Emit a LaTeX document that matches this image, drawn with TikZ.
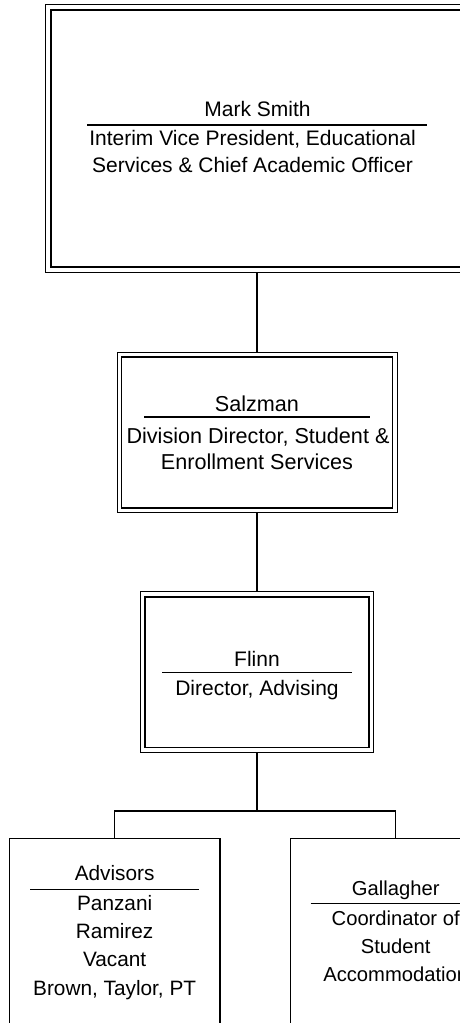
\documentclass[tikz,border=0pt]{standalone}
\usepackage{fontspec}
\setmainfont{Liberation Sans}
\begin{document}
\begin{tikzpicture}[x=1pt,y=-1pt,
  dbox/.style={draw,line width=1pt,inner sep=0pt},
  sbox/.style={draw,line width=1.2pt,inner sep=0pt},
  inner/.style={line width=1.6pt},
  conn/.style={line width=1.3pt},
  rulel/.style={line width=1.3pt},
  txt/.style={inner sep=0pt,anchor=base,font=\fontsize{21}{25}\selectfont},
  txtm/.style={inner sep=0pt,anchor=base,font=\fontsize{21.6}{25}\selectfont},
  txts/.style={inner sep=0pt,anchor=base,font=\fontsize{20.8}{25}\selectfont},
  txtr/.style={inner sep=0pt,anchor=base,font=\fontsize{20.2}{25}\selectfont}]
\useasboundingbox (0,0) rectangle (460,1023);
\clip (0,0) rectangle (460,1023);
% boxes
\node[dbox,minimum width=422.6pt,minimum height=267.3pt] (vp) at (257,138.35) {};
\draw[inner] ([shift={(5.5,5.5)}]vp.north west) rectangle ([shift={(-5.5,-5.5)}]vp.south east);
\node[dbox,minimum width=280pt,minimum height=160pt] (salz) at (257,432.7) {};
\draw[inner] ([shift={(5,5)}]salz.north west) rectangle ([shift={(-5,-5)}]salz.south east);
\node[dbox,minimum width=233.5pt,minimum height=160.6pt] (flinn) at (257,672) {};
\draw[inner] ([shift={(5,5.5)}]flinn.north west) rectangle ([shift={(-5,-5.5)}]flinn.south east);
\node[sbox,minimum width=210.7pt,minimum height=241.7pt] (adv) at (114.65,959.15) {};
\node[sbox,minimum width=210pt,minimum height=241.7pt] (gal) at (395.7,959.15) {};
% connectors
\coordinate (bus) at (257,811);
\draw[conn] (vp.south) -- (salz.north);
\draw[conn] (salz.south) -- (flinn.north);
\draw[conn] (flinn.south) -- (bus);
\draw[conn] (adv.north) |- (bus) -| (gal.north);
% texts: top
\node[txt] (vpname) at (257.5,116.7) {Mark Smith};
\draw[rulel] (87.3,125) -- (426.7,125);
\node[txt] (vpt1) at (252.5,145.5) {Interim Vice President, Educational};
\node[txt] (vpt2) at (252.5,172) {Services \& Chief Academic Officer};
% Salzman
\node[txtm] (szname) at (257,411.5) {Salzman};
\draw[rulel] (144,417) -- (370,417);
\node[txtm] (szt1) at (258,443) {Division Director, Student \&};
\node[txtm] (szt2) at (257,469.5) {Enrollment Services};
% Flinn
\node[txt] (flname) at (257,666) {Flinn};
\draw[rulel] (162,672.3) -- (352,672.3);
\node[txt] (flt1) at (257,695) {Director, Advising};
% Advisors
\node[txts] (advname) at (114.65,880.7) {Advisors};
\draw[rulel] (30,889.3) -- (199.3,889.3);
\node[txts] (adv1) at (114.65,910) {Panzani};
\node[txts] (adv2) at (114.65,938.3) {Ramirez};
\node[txts] (adv3) at (114.65,966.7) {Vacant};
\node[txts] (adv4) at (114.65,995) {Brown, Taylor, PT};
% Gallagher
\node[txtr] (galname) at (395.7,895) {Gallagher};
\draw[rulel] (310.7,903.3) -- (480.7,903.3);
\node[txtr] (gal1) at (395.7,925) {Coordinator of};
\node[txtr] (gal2) at (395.7,953) {Student};
\node[txtr] (gal3) at (395.7,981.7) {Accommodation};
\end{tikzpicture}
\end{document}
